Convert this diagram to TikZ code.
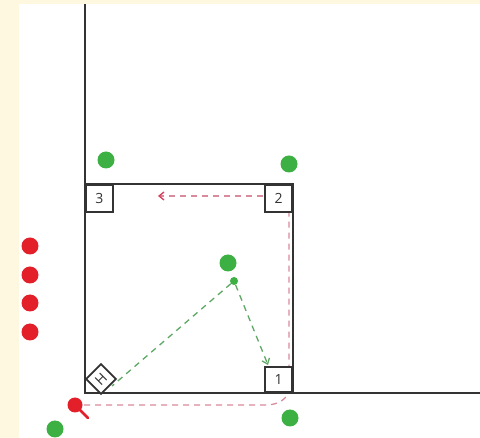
\documentclass[tikz,border=0pt]{standalone}
\usepackage{fontspec}
\setmainfont{Open Sans}
\usetikzlibrary{arrows.meta}
\definecolor{cream}{HTML}{FFF8E1}
\definecolor{gdot}{HTML}{3DB043}
\definecolor{rdot}{HTML}{E3202A}
\definecolor{wall}{HTML}{333333}
\definecolor{rdash}{HTML}{D98A9C}
\definecolor{rarrow}{HTML}{D4405E}
\definecolor{gdash}{HTML}{5FA865}
\tikzset{
  gball/.style={circle,fill=gdot,inner sep=0pt,minimum size=17pt},
  rball/.style={circle,fill=rdot,inner sep=0pt,minimum size=17pt},
  wallline/.style={draw=wall,line width=2pt},
  numbox/.style={draw=wall,fill=white,line width=1.7pt,minimum width=27pt,minimum height=27pt,inner sep=0pt,font=\fontsize{14}{14}\selectfont,text=wall},
  reddash/.style={draw=rdash,line width=1.3pt,dash pattern=on 6pt off 5pt},
  greendash/.style={draw=gdash,line width=1.3pt,dash pattern=on 6pt off 5pt},
}
\begin{document}
\begin{tikzpicture}[x=1pt,y=-1pt]
\useasboundingbox (0,0) rectangle (480,438);
\fill[cream] (0,0) rectangle (480,438);
\fill[white] (19,4) rectangle (480,438);
% walls
\coordinate (wtop) at (85,4);
\coordinate (corner) at (85,393);
\coordinate (wright) at (480,393);
\coordinate (sqtl) at (85,184);
\coordinate (sqtr) at (293,184);
\coordinate (sqbr) at (293,393);
% dashed paths (under boxes)
\coordinate (pinend) at (84,405);
\coordinate (rb1) at (266,405);
\coordinate (rb2) at (289,388);
\coordinate (rb3) at (289,212);
\coordinate (ra1) at (263,196);
\coordinate (ra2) at (158,196);
\draw[reddash] (pinend) -- (rb1) to[out=0,in=-90] (rb2) -- (rb3);
\draw[reddash,-{Straight Barb[length=5pt,width=8pt,color=rarrow]}] (ra1) -- (ra2);
\draw[wallline] (wtop) -- (corner) -- (wright);
\draw[wallline] (sqtl) -- (sqtr) -- (sqbr);
% boxes
\node[numbox,anchor=north west] (b3) at (85,184) {3};
\node[numbox,anchor=north east] (b2) at (293,184) {2};
\node[numbox,anchor=south east,minimum height=25pt] (b1) at (293,393) {1};
\node[numbox,rotate=45,minimum width=21pt,minimum height=21pt] (bh) at (101,379) {H};
% green dots
\node[gball] (g1) at (106,160) {};
\node[gball] (g2) at (289,164) {};
\node[gball] (g3) at (228,263) {};
\node[circle,fill=gdot,inner sep=0pt,minimum size=8pt] (g4) at (234,281) {};
\node[gball] (g5) at (290,418) {};
\node[gball] (g6) at (55,429) {};
\coordinate (gt1) at (112,386);
\coordinate (gt2) at (268,365);
\draw[greendash] (g4) -- (gt1);
\draw[greendash,-{Straight Barb[length=5pt,width=8pt]}] (g4) -- (gt2);
% red dots
\node[rball] (r1) at (30,246) {};
\node[rball] (r2) at (30,275) {};
\node[rball] (r3) at (30,303) {};
\node[rball] (r4) at (30,332) {};
\coordinate (tail) at (88,418);
\draw[rdot,line width=2.5pt,line cap=round] (75,405) -- (tail);
\node[circle,fill=rdot,inner sep=0pt,minimum size=15pt] (pin) at (75,405) {};
\end{tikzpicture}
\end{document}
